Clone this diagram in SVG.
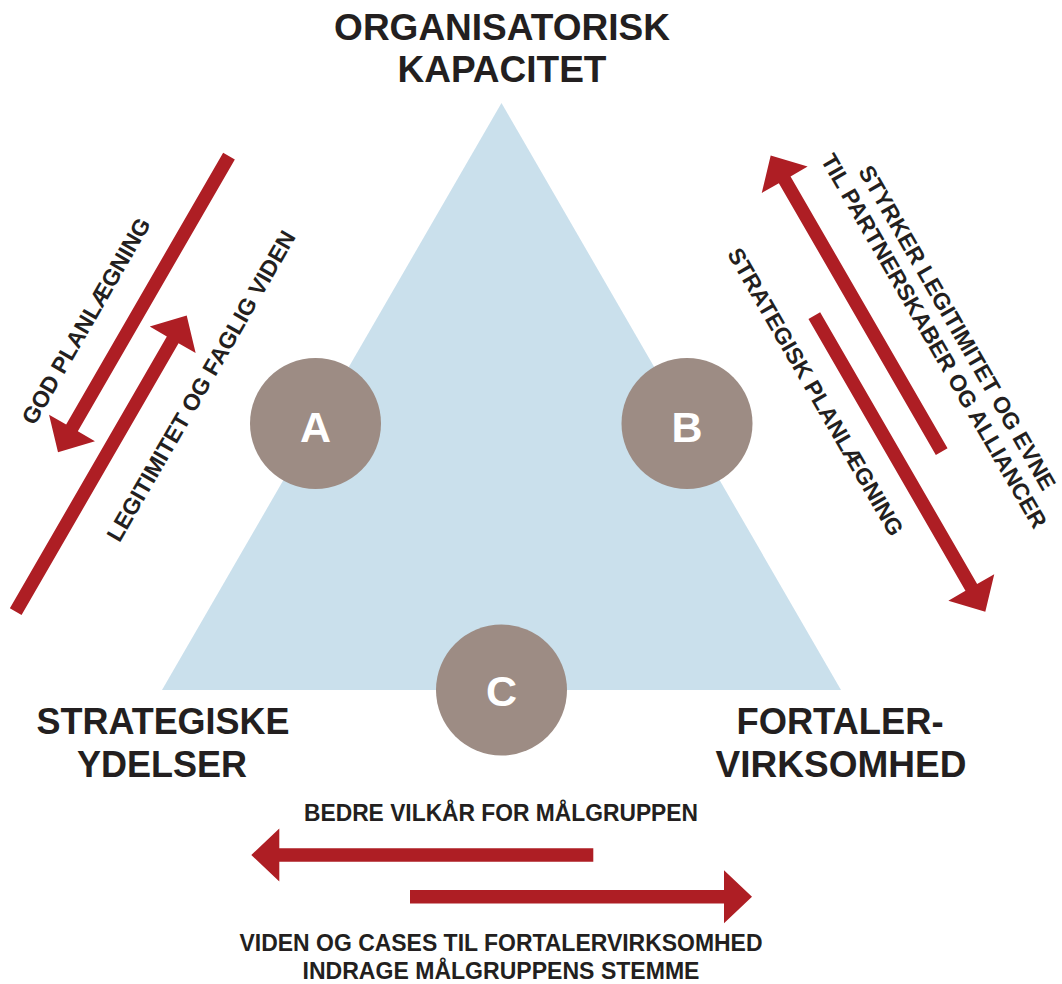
<svg xmlns="http://www.w3.org/2000/svg" width="1062" height="984" viewBox="0 0 1062 984">
  <style>
    .lbl { font-family: "Liberation Sans", Arial, sans-serif; font-weight: bold; fill: #231F20; text-anchor: middle; }
    .big { font-size: 37px; }
    .small { font-size: 23px; }
    .letter { font-family: "Liberation Sans", Arial, sans-serif; font-weight: bold; font-size: 43px; fill: #FFFFFF; text-anchor: middle; }
    .tri { fill: #CAE0EC; }
    .dot { fill: #9D8C84; }
    .arrow { fill: #AE1E24; }
  </style>
  <defs>
    <!-- straight arrow, 342 long, pointing along +x from its tail at the origin -->
    <path id="arr" d="M0,-6.75 H314 V-26.5 L342,0 L314,26.5 V6.75 H0 Z"/>
  </defs>

  <rect width="1062" height="984" fill="#FFFFFF"/>

  <!-- central triangle -->
  <g id="triangle">
    <polygon class="tri" points="501.5,103 162,690 841,690"/>
  </g>

  <!-- corner titles -->
  <g id="node-top">
    <text class="lbl big" x="502" y="40">ORGANISATORISK</text>
    <text class="lbl big" x="502" y="82">KAPACITET</text>
  </g>
  <g id="node-left">
    <text class="lbl big" x="163" y="734" textLength="253" lengthAdjust="spacingAndGlyphs">STRATEGISKE</text>
    <text class="lbl big" x="162" y="777" textLength="170" lengthAdjust="spacingAndGlyphs">YDELSER</text>
  </g>
  <g id="node-right">
    <text class="lbl big" x="840" y="734" textLength="207" lengthAdjust="spacingAndGlyphs">FORTALER-</text>
    <text class="lbl big" x="841" y="777">VIRKSOMHED</text>
  </g>

  <!-- edge markers -->
  <g id="node-a">
    <circle class="dot" cx="315.5" cy="423.5" r="65.5"/>
    <text class="letter" x="315.5" y="442">A</text>
  </g>
  <g id="node-b">
    <circle class="dot" cx="687" cy="423.5" r="65.5"/>
    <text class="letter" x="687" y="442">B</text>
  </g>
  <g id="node-c">
    <circle class="dot" cx="501.5" cy="690" r="65.5"/>
    <text class="letter" x="501.5" y="706">C</text>
  </g>

  <!-- arrows between the corners -->
  <g id="connectors" class="arrow">
    <use href="#arr" transform="translate(229,156) rotate(120)"/>
    <use href="#arr" transform="translate(15.7,611.7) rotate(-60)"/>
    <use href="#arr" transform="translate(941.7,451.7) rotate(-120)"/>
    <use href="#arr" transform="translate(814.3,315.5) rotate(60)"/>
    <use href="#arr" transform="translate(593.3,855) rotate(180)"/>
    <use href="#arr" transform="translate(410,896.7)"/>
  </g>

  <!-- arrow labels -->
  <g id="labels-a">
    <text class="lbl small" transform="translate(92.9,324.9) rotate(-60)">GOD PLANLÆGNING</text>
    <text class="lbl small" transform="translate(207.9,389.9) rotate(-60)">LEGITIMITET OG FAGLIG VIDEN</text>
  </g>
  <g id="labels-b">
    <text class="lbl small" transform="translate(950.4,331.6) rotate(60)">STYRKER LEGITIMITET OG EVNE</text>
    <text class="lbl small" transform="translate(927.1,344.9) rotate(60)">TIL PARTNERSKABER OG ALLIANCER</text>
    <text class="lbl small" transform="translate(808.7,395.8) rotate(60)">STRATEGISK PLANLÆGNING</text>
  </g>
  <g id="labels-c">
    <text class="lbl small" x="501" y="820.5" textLength="394" lengthAdjust="spacingAndGlyphs">BEDRE VILKÅR FOR MÅLGRUPPEN</text>
    <text class="lbl small" x="501" y="951" textLength="523" lengthAdjust="spacingAndGlyphs">VIDEN OG CASES TIL FORTALERVIRKSOMHED</text>
    <text class="lbl small" x="501" y="979" textLength="397" lengthAdjust="spacingAndGlyphs">INDRAGE MÅLGRUPPENS STEMME</text>
  </g>
</svg>
